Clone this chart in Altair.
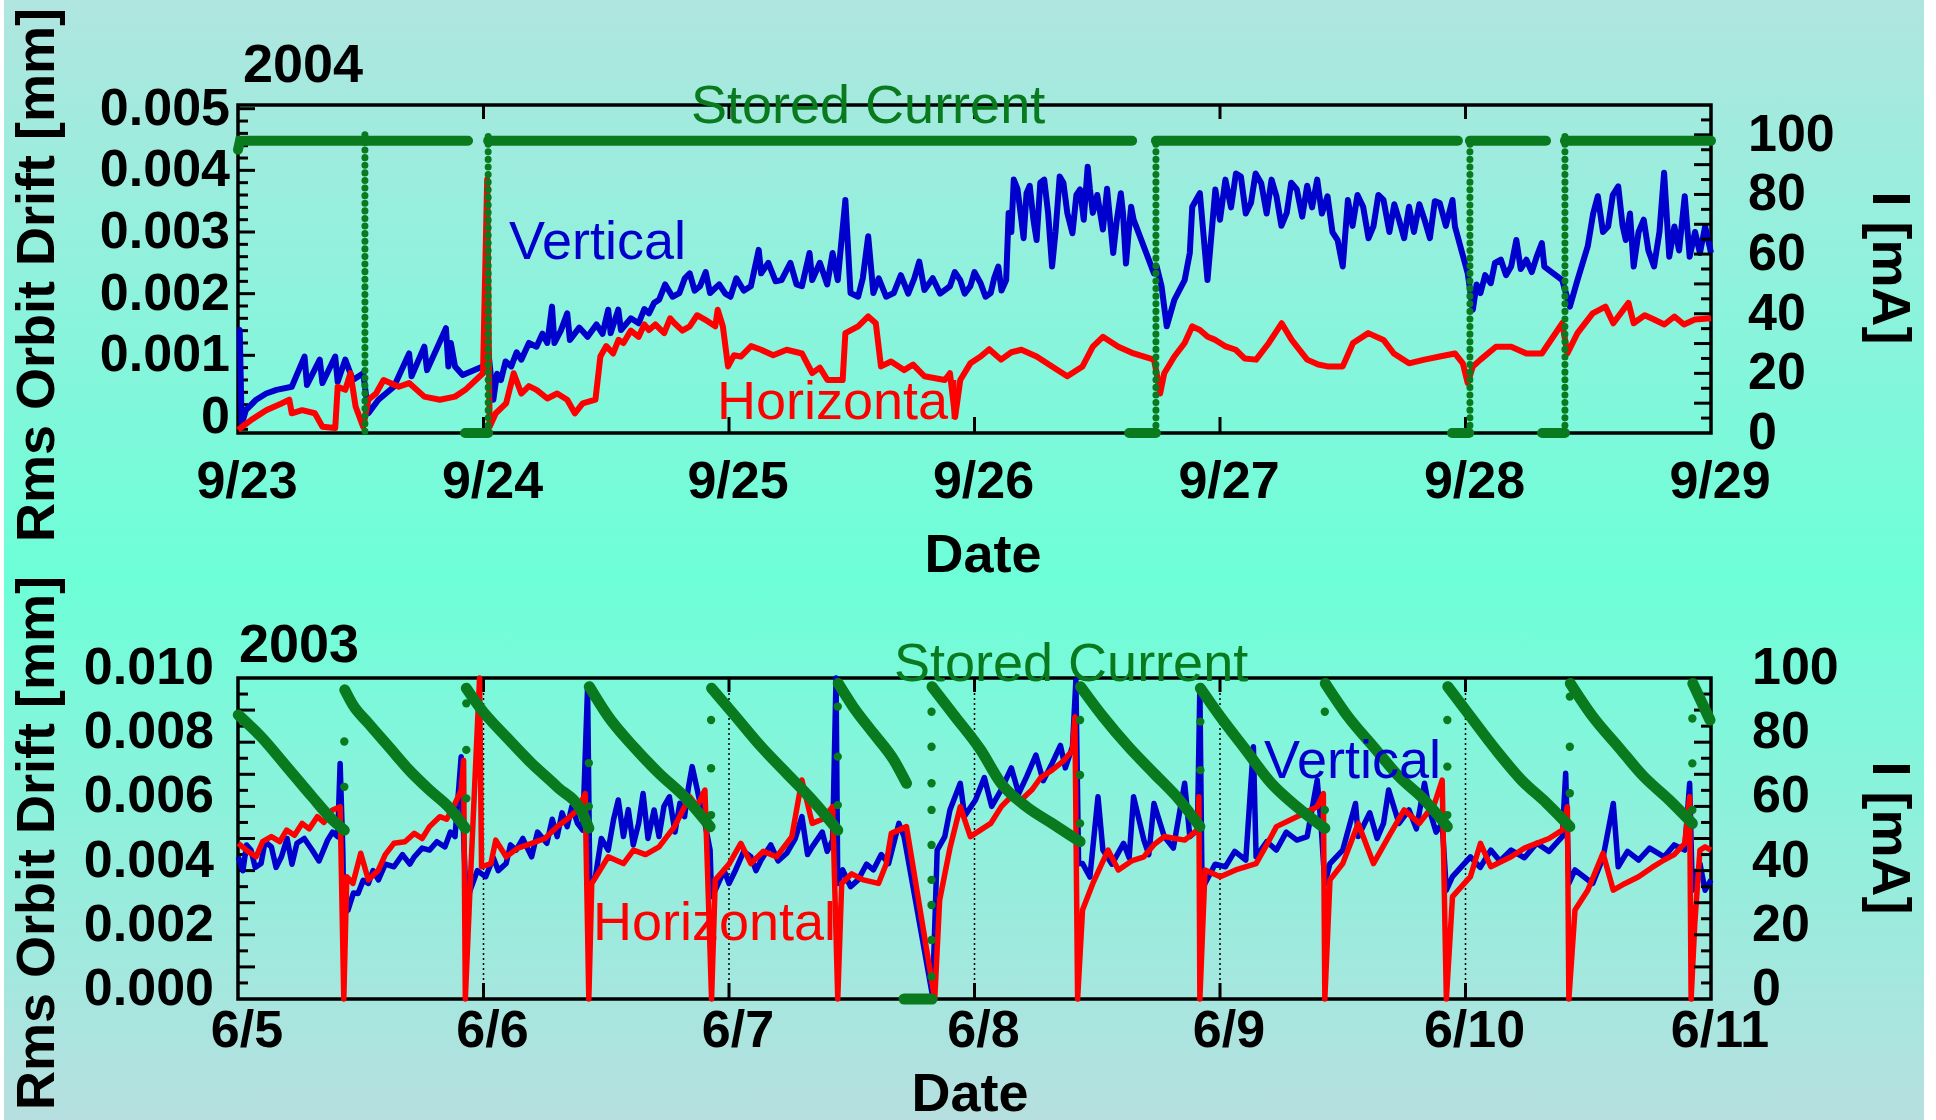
import altair as alt
import pandas as pd

FONT = "Liberation Sans"
BLUE = "#0000cd"
RED = "#ff0000"
GREEN = "#0a7a1e"
BG_TOP = "#b0e5e0"
BG_MID = "#6cffd8"
BG_BOT = "#b7dfe0"

W = 1473
H_TOP = 328
H_BOT = 321
GAP = 245

# ---------------- axis values / labels ----------------
day_ticks = [0, 1, 2, 3, 4, 5, 6]
inner_days = [1, 2, 3, 4, 5]
dates_2004 = ["9/23", "9/24", "9/25", "9/26", "9/27", "9/28", "9/29"]
dates_2003 = ["6/5", "6/6", "6/7", "6/8", "6/9", "6/10", "6/11"]

top_left_values = [0, 0.001, 0.002, 0.003, 0.004, 0.005]
top_left_labels = ["0", "0.001", "0.002", "0.003", "0.004", "0.005"]
top_left_minor = [-0.0002, 0.0002, 0.0004, 0.0006, 0.0008, 0.0012, 0.0014, 0.0016, 0.0018,
                  0.0022, 0.0024, 0.0026, 0.0028, 0.0032, 0.0034, 0.0036, 0.0038,
                  0.0042, 0.0044, 0.0046, 0.0048]
top_right_values = [0, 20, 40, 60, 80, 100]
top_right_labels = ["0", "20", "40", "60", "80", "100"]
top_right_major = [10, 20, 30, 40, 50, 60, 70, 80, 90, 100]
top_right_minor = [5, 15, 25, 35, 45, 55, 65, 75, 85, 95, 105]

bot_left_values = [0, 0.002, 0.004, 0.006, 0.008, 0.010]
bot_left_labels = ["0.000", "0.002", "0.004", "0.006", "0.008", "0.010"]
bot_left_major = [0.001, 0.002, 0.003, 0.004, 0.005, 0.006, 0.007, 0.008, 0.009]
bot_left_minor = [0.0005, 0.0015, 0.0025, 0.0035, 0.0045, 0.0055, 0.0065, 0.0075, 0.0085, 0.0095]
bot_right_values = [0, 20, 40, 60, 80, 100]
bot_right_labels = ["0", "20", "40", "60", "80", "100"]
bot_right_major = [10, 20, 30, 40, 50, 60, 70, 80, 90]
bot_right_minor = [5, 15, 25, 35, 45, 55, 65, 75, 85, 95]

# ---------------- 2004 series (day offset from 9/23, value) ----------------
top_vertical = [
    (0.000, 0.00140), (0.007, 0.00141), (0.015, -0.00012), (0.032, 0.00011), (0.074, 0.00028),
    (0.115, 0.00038), (0.157, 0.00044), (0.219, 0.00049), (0.271, 0.00098), (0.281, 0.00052),
    (0.333, 0.00093), (0.344, 0.00055), (0.396, 0.00098), (0.406, 0.00057), (0.437, 0.00093),
    (0.468, 0.00060), (0.510, 0.00071), (0.531, 0.00006), (0.572, 0.00028), (0.635, 0.00049),
    (0.697, 0.00103), (0.707, 0.00066), (0.759, 0.00114), (0.770, 0.00076), (0.847, 0.00144),
    (0.857, 0.00082), (0.867, 0.00120), (0.884, 0.00082), (0.915, 0.00068), (1.009, 0.00084),
    (1.019, 0.00109), (1.040, 0.00028), (1.055, 0.00070), (1.071, 0.00060), (1.090, 0.00090),
    (1.113, 0.00082), (1.135, 0.00105), (1.154, 0.00093), (1.185, 0.00120), (1.216, 0.00114),
    (1.240, 0.00135), (1.260, 0.00120), (1.279, 0.00179), (1.289, 0.00120), (1.315, 0.00140),
    (1.341, 0.00168), (1.352, 0.00125), (1.390, 0.00145), (1.424, 0.00130), (1.460, 0.00150),
    (1.485, 0.00135), (1.508, 0.00174), (1.518, 0.00136), (1.549, 0.00174), (1.560, 0.00141),
    (1.600, 0.00160), (1.632, 0.00152), (1.655, 0.00175), (1.674, 0.00168), (1.695, 0.00185),
    (1.715, 0.00190), (1.740, 0.00215), (1.770, 0.00195), (1.798, 0.00201), (1.820, 0.00225),
    (1.840, 0.00233), (1.860, 0.00205), (1.882, 0.00212), (1.905, 0.00235), (1.923, 0.00201),
    (1.960, 0.00215), (1.985, 0.00200), (2.006, 0.00195), (2.030, 0.00225), (2.060, 0.00205),
    (2.089, 0.00212), (2.121, 0.00271), (2.131, 0.00233), (2.160, 0.00250), (2.190, 0.00220),
    (2.214, 0.00222), (2.250, 0.00250), (2.275, 0.00215), (2.297, 0.00212), (2.328, 0.00266),
    (2.339, 0.00222), (2.370, 0.00250), (2.400, 0.00215), (2.422, 0.00266), (2.443, 0.00222),
    (2.474, 0.00352), (2.495, 0.00201), (2.526, 0.00195), (2.545, 0.00225), (2.567, 0.00293),
    (2.588, 0.00201), (2.610, 0.00225), (2.640, 0.00195), (2.671, 0.00201), (2.700, 0.00230),
    (2.730, 0.00200), (2.755, 0.00225), (2.775, 0.00252), (2.796, 0.00206), (2.830, 0.00225),
    (2.860, 0.00200), (2.900, 0.00212), (2.920, 0.00235), (2.942, 0.00222), (2.960, 0.00200),
    (2.983, 0.00212), (3.000, 0.00235), (3.025, 0.00217), (3.045, 0.00195), (3.066, 0.00201),
    (3.080, 0.00225), (3.097, 0.00244), (3.110, 0.00205), (3.129, 0.00222), (3.139, 0.00331),
    (3.150, 0.00300), (3.160, 0.00385), (3.175, 0.00370), (3.191, 0.00320), (3.200, 0.00290),
    (3.212, 0.00363), (3.225, 0.00375), (3.240, 0.00320), (3.253, 0.00287), (3.268, 0.00380),
    (3.284, 0.00385), (3.300, 0.00330), (3.316, 0.00244), (3.330, 0.00300), (3.347, 0.00390),
    (3.362, 0.00380), (3.378, 0.00331), (3.399, 0.00298), (3.415, 0.00360), (3.430, 0.00369),
    (3.445, 0.00320), (3.461, 0.00406), (3.470, 0.00370), (3.482, 0.00331), (3.500, 0.00360),
    (3.523, 0.00304), (3.540, 0.00370), (3.565, 0.00266), (3.580, 0.00320), (3.596, 0.00363),
    (3.605, 0.00330), (3.617, 0.00249), (3.628, 0.00300), (3.638, 0.00341), (3.648, 0.00320),
    (3.731, 0.00233), (3.742, 0.00244), (3.762, 0.00212), (3.783, 0.00147), (3.814, 0.00190),
    (3.856, 0.00222), (3.877, 0.00266), (3.887, 0.00341), (3.918, 0.00363), (3.949, 0.00222),
    (3.981, 0.00369), (4.000, 0.00320), (4.022, 0.00385), (4.045, 0.00340), (4.065, 0.00395),
    (4.085, 0.00390), (4.105, 0.00330), (4.126, 0.00347), (4.145, 0.00395), (4.168, 0.00379),
    (4.190, 0.00330), (4.210, 0.00385), (4.230, 0.00358), (4.250, 0.00310), (4.272, 0.00331),
    (4.290, 0.00380), (4.313, 0.00369), (4.335, 0.00325), (4.355, 0.00375), (4.375, 0.00340),
    (4.396, 0.00385), (4.415, 0.00330), (4.438, 0.00358), (4.458, 0.00300), (4.479, 0.00287),
    (4.500, 0.00244), (4.521, 0.00352), (4.540, 0.00310), (4.560, 0.00360), (4.583, 0.00341),
    (4.605, 0.00290), (4.625, 0.00309), (4.645, 0.00360), (4.666, 0.00352), (4.690, 0.00300),
    (4.710, 0.00345), (4.729, 0.00320), (4.750, 0.00290), (4.770, 0.00341), (4.790, 0.00300),
    (4.812, 0.00345), (4.833, 0.00320), (4.855, 0.00290), (4.875, 0.00350), (4.895, 0.00347),
    (4.920, 0.00310), (4.947, 0.00352), (4.957, 0.00309), (5.009, 0.00233), (5.030, 0.00174),
    (5.045, 0.00215), (5.061, 0.00201), (5.080, 0.00230), (5.103, 0.00217), (5.120, 0.00250),
    (5.144, 0.00255), (5.165, 0.00230), (5.186, 0.00244), (5.207, 0.00287), (5.225, 0.00240),
    (5.248, 0.00255), (5.270, 0.00235), (5.290, 0.00260), (5.311, 0.00282), (5.321, 0.00244),
    (5.394, 0.00222), (5.425, 0.00179), (5.456, 0.00222), (5.498, 0.00277), (5.520, 0.00330),
    (5.539, 0.00358), (5.560, 0.00300), (5.581, 0.00309), (5.600, 0.00360), (5.622, 0.00374),
    (5.640, 0.00310), (5.653, 0.00287), (5.670, 0.00330), (5.685, 0.00244), (5.705, 0.00300),
    (5.726, 0.00320), (5.745, 0.00270), (5.768, 0.00244), (5.790, 0.00300), (5.809, 0.00396),
    (5.830, 0.00260), (5.851, 0.00309), (5.870, 0.00270), (5.893, 0.00358), (5.913, 0.00260),
    (5.935, 0.00300), (5.955, 0.00266), (5.976, 0.00309), (6.000, 0.00266),
]

top_horizontal = [
    (0.000, -0.00021), (0.053, -0.00005), (0.115, 0.00011), (0.177, 0.00022), (0.209, 0.00028),
    (0.219, 0.00006), (0.261, 0.00011), (0.313, 0.00006), (0.344, -0.00016), (0.396, -0.00018),
    (0.406, 0.00049), (0.437, 0.00044), (0.458, 0.00071), (0.479, 0.00017), (0.510, -0.00016),
    (0.531, 0.00028), (0.562, 0.00038), (0.593, 0.00060), (0.655, 0.00049), (0.697, 0.00055),
    (0.759, 0.00033), (0.822, 0.00028), (0.884, 0.00033), (0.926, 0.00044), (0.998, 0.00071),
    (1.015, 0.00385), (1.025, -0.00016), (1.050, 0.00006), (1.092, 0.00022), (1.123, 0.00071),
    (1.154, 0.00038), (1.185, 0.00050), (1.216, 0.00044), (1.260, 0.00030), (1.300, 0.00038),
    (1.341, 0.00028), (1.372, 0.00006), (1.404, 0.00022), (1.456, 0.00028), (1.476, 0.00098),
    (1.500, 0.00115), (1.528, 0.00103), (1.550, 0.00125), (1.570, 0.00120), (1.600, 0.00140),
    (1.632, 0.00130), (1.655, 0.00150), (1.674, 0.00141), (1.700, 0.00150), (1.736, 0.00136),
    (1.760, 0.00160), (1.778, 0.00152), (1.810, 0.00140), (1.840, 0.00147), (1.870, 0.00165),
    (1.902, 0.00158), (1.944, 0.00147), (1.954, 0.00174), (1.975, 0.00147), (1.996, 0.00082),
    (2.020, 0.00100), (2.048, 0.00098), (2.090, 0.00115), (2.131, 0.00109), (2.180, 0.00100),
    (2.235, 0.00109), (2.297, 0.00103), (2.339, 0.00071), (2.370, 0.00080), (2.401, 0.00060),
    (2.463, 0.00060), (2.474, 0.00136), (2.526, 0.00147), (2.567, 0.00163), (2.598, 0.00152),
    (2.619, 0.00082), (2.660, 0.00090), (2.713, 0.00076), (2.750, 0.00085), (2.796, 0.00066),
    (2.879, 0.00060), (2.900, 0.00071), (2.921, 0.00000), (2.942, 0.00060), (2.983, 0.00087),
    (3.025, 0.00098), (3.060, 0.00110), (3.108, 0.00093), (3.150, 0.00105), (3.191, 0.00109),
    (3.253, 0.00098), (3.316, 0.00082), (3.378, 0.00066), (3.440, 0.00082), (3.482, 0.00114),
    (3.523, 0.00130), (3.586, 0.00114), (3.648, 0.00103), (3.731, 0.00093), (3.742, 0.00071),
    (3.756, 0.00038), (3.773, 0.00071), (3.814, 0.00098), (3.856, 0.00120), (3.887, 0.00147),
    (3.918, 0.00141), (3.950, 0.00130), (3.981, 0.00125), (4.020, 0.00115), (4.064, 0.00109),
    (4.100, 0.00095), (4.147, 0.00093), (4.199, 0.00120), (4.251, 0.00152), (4.292, 0.00125),
    (4.355, 0.00093), (4.400, 0.00085), (4.438, 0.00082), (4.500, 0.00082), (4.542, 0.00120),
    (4.604, 0.00136), (4.666, 0.00125), (4.708, 0.00103), (4.770, 0.00087), (4.833, 0.00093),
    (4.895, 0.00098), (4.957, 0.00103), (4.989, 0.00087), (5.009, 0.00055), (5.030, 0.00082),
    (5.061, 0.00093), (5.124, 0.00114), (5.186, 0.00114), (5.248, 0.00103), (5.311, 0.00103),
    (5.394, 0.00152), (5.415, 0.00103), (5.456, 0.00136), (5.518, 0.00168), (5.570, 0.00179),
    (5.602, 0.00152), (5.664, 0.00185), (5.685, 0.00152), (5.730, 0.00165), (5.768, 0.00158),
    (5.810, 0.00150), (5.851, 0.00163), (5.890, 0.00150), (5.934, 0.00158), (6.000, 0.00160),
]

# stored current 2004: plateaus / zero periods, and injection ramps (mA)
top_current_levels = [
    [(0.000, 95), (0.008, 98), (0.937, 98)],
    [(0.925, 0), (1.019, 0)],
    [(1.019, 98), (3.642, 98)],
    [(3.630, 0), (3.739, 0)],
    [(3.739, 98), (4.969, 98)],
    [(4.945, 0), (5.015, 0)],
    [(5.018, 98), (5.328, 98)],
    [(5.312, 0), (5.405, 0)],
    [(5.405, 98), (6.000, 98)],
]
top_current_ramps = [
    [(0.517, 100), (0.517, 0)],
    [(1.019, 0), (1.019, 100)],
    [(3.739, 0), (3.739, 98)],
    [(5.018, 0), (5.018, 98)],
    [(5.405, 0), (5.405, 101)],
]

# ---------------- 2003 series (day offset from 6/5, value) ----------------
bot_vertical = [
    (0.001, 0.00443), (0.020, 0.00400), (0.035, 0.00480), (0.053, 0.00464), (0.070, 0.00410),
    (0.094, 0.00422), (0.110, 0.00490), (0.136, 0.00474), (0.155, 0.00410), (0.177, 0.00443),
    (0.200, 0.00500), (0.220, 0.00420), (0.240, 0.00485), (0.270, 0.00500), (0.302, 0.00464),
    (0.330, 0.00430), (0.365, 0.00495), (0.385, 0.00520), (0.406, 0.00506), (0.416, 0.00734),
    (0.427, 0.00464), (0.431, 0.00267),
    (0.448, 0.00277), (0.470, 0.00330), (0.489, 0.00329), (0.510, 0.00370), (0.531, 0.00360),
    (0.550, 0.00400), (0.572, 0.00371), (0.600, 0.00420), (0.635, 0.00412), (0.670, 0.00450),
    (0.700, 0.00420), (0.718, 0.00443), (0.750, 0.00470), (0.780, 0.00464), (0.810, 0.00490),
    (0.843, 0.00474), (0.865, 0.00520), (0.884, 0.00506), (0.909, 0.00755), (0.921, 0.00464),
    (0.930, 0.00300),
    (0.946, 0.00339), (0.975, 0.00400), (1.009, 0.00381), (1.040, 0.00440), (1.060, 0.00400),
    (1.092, 0.00422), (1.110, 0.00480), (1.133, 0.00464), (1.160, 0.00500), (1.196, 0.00443),
    (1.220, 0.00520), (1.258, 0.00485), (1.280, 0.00560), (1.300, 0.00506), (1.320, 0.00580),
    (1.341, 0.00537), (1.360, 0.00600), (1.383, 0.00547), (1.404, 0.00526), (1.424, 0.00973),
    (1.433, 0.00360),
    (1.456, 0.00381), (1.480, 0.00500), (1.508, 0.00464), (1.530, 0.00560), (1.549, 0.00620),
    (1.570, 0.00506), (1.590, 0.00590), (1.610, 0.00480), (1.632, 0.00547), (1.650, 0.00640),
    (1.670, 0.00500), (1.695, 0.00589), (1.715, 0.00506), (1.735, 0.00600), (1.757, 0.00630),
    (1.780, 0.00520), (1.800, 0.00610), (1.819, 0.00568), (1.835, 0.00660), (1.850, 0.00724),
    (1.871, 0.00651), (1.890, 0.00580), (1.902, 0.00547), (1.923, 0.00464), (1.929, 0.00319),
    (1.944, 0.00339), (1.980, 0.00400), (2.000, 0.00360), (2.027, 0.00402), (2.060, 0.00460),
    (2.089, 0.00443), (2.110, 0.00400), (2.131, 0.00433), (2.170, 0.00480), (2.200, 0.00430),
    (2.235, 0.00454), (2.270, 0.00500), (2.297, 0.00568), (2.320, 0.00450), (2.339, 0.00474),
    (2.380, 0.00520), (2.400, 0.00460), (2.422, 0.00495), (2.436, 0.01000), (2.443, 0.00360),
    (2.463, 0.00402), (2.495, 0.00350), (2.526, 0.00371), (2.560, 0.00420), (2.588, 0.00402),
    (2.620, 0.00450), (2.650, 0.00422), (2.692, 0.00547), (2.713, 0.00506), (2.829, 0.00010),
    (2.848, 0.00464), (2.879, 0.00506), (2.900, 0.00589), (2.942, 0.00672), (2.960, 0.00570),
    (3.004, 0.00620), (3.040, 0.00690), (3.070, 0.00600), (3.108, 0.00651), (3.150, 0.00720),
    (3.180, 0.00640), (3.212, 0.00692), (3.250, 0.00760), (3.280, 0.00680), (3.316, 0.00734),
    (3.350, 0.00790), (3.370, 0.00720), (3.399, 0.00786), (3.413, 0.00993), (3.424, 0.00422),
    (3.440, 0.00422), (3.470, 0.00380), (3.503, 0.00630), (3.523, 0.00464), (3.560, 0.00420),
    (3.607, 0.00485), (3.630, 0.00440), (3.648, 0.00630), (3.690, 0.00495), (3.710, 0.00450),
    (3.731, 0.00609), (3.773, 0.00506), (3.810, 0.00470), (3.856, 0.00672), (3.877, 0.00506),
    (3.908, 0.00526), (3.918, 0.00973), (3.927, 0.00339),
    (3.939, 0.00360), (3.980, 0.00420), (4.022, 0.00412), (4.060, 0.00460), (4.105, 0.00433),
    (4.136, 0.00786), (4.147, 0.00443), (4.190, 0.00490), (4.230, 0.00464), (4.270, 0.00520),
    (4.313, 0.00495), (4.355, 0.00506), (4.396, 0.00682), (4.413, 0.00526), (4.427, 0.00360),
    (4.448, 0.00422), (4.500, 0.00464), (4.552, 0.00609), (4.563, 0.00506), (4.610, 0.00580),
    (4.640, 0.00500), (4.666, 0.00547), (4.687, 0.00651), (4.729, 0.00547), (4.770, 0.00589),
    (4.800, 0.00530), (4.833, 0.00672), (4.853, 0.00589), (4.880, 0.00520), (4.905, 0.00547),
    (4.922, 0.00339),
    (4.947, 0.00381), (5.020, 0.00443), (5.060, 0.00410), (5.103, 0.00464), (5.140, 0.00430),
    (5.186, 0.00464), (5.240, 0.00440), (5.290, 0.00485), (5.340, 0.00460), (5.394, 0.00506),
    (5.408, 0.00703), (5.421, 0.00360),
    (5.446, 0.00402), (5.518, 0.00360), (5.560, 0.00440), (5.602, 0.00609), (5.622, 0.00412),
    (5.660, 0.00460), (5.705, 0.00433), (5.750, 0.00470), (5.809, 0.00443), (5.850, 0.00480),
    (5.893, 0.00464), (5.913, 0.00672), (5.924, 0.00339),
    (5.955, 0.00422), (5.976, 0.00339), (6.000, 0.00371),
]

bot_horizontal = [
    (0.001, 0.00485), (0.040, 0.00460), (0.074, 0.00443), (0.100, 0.00490), (0.136, 0.00506),
    (0.170, 0.00490), (0.198, 0.00526), (0.230, 0.00510), (0.261, 0.00547), (0.290, 0.00530),
    (0.323, 0.00568), (0.350, 0.00550), (0.385, 0.00589), (0.416, 0.00599), (0.431, 0.0),
    (0.443, 0.00381), (0.468, 0.00360), (0.500, 0.00454), (0.531, 0.00371), (0.572, 0.00402),
    (0.600, 0.00450), (0.635, 0.00485), (0.680, 0.00490), (0.718, 0.00516), (0.750, 0.00500),
    (0.780, 0.00537), (0.822, 0.00568), (0.850, 0.00560), (0.884, 0.00609), (0.909, 0.00651),
    (0.919, 0.00744), (0.926, 0.0),
    (0.946, 0.00360), (0.984, 0.01000), (0.992, 0.00412),
    (1.030, 0.00422), (1.050, 0.00495), (1.092, 0.00443), (1.140, 0.00470), (1.196, 0.00485),
    (1.250, 0.00500), (1.300, 0.00537), (1.340, 0.00560), (1.383, 0.00589), (1.414, 0.00640),
    (1.429, 0.0),
    (1.441, 0.00360), (1.508, 0.00443), (1.570, 0.00422), (1.611, 0.00464), (1.660, 0.00450),
    (1.715, 0.00474), (1.778, 0.00537), (1.840, 0.00630), (1.870, 0.00600), (1.902, 0.00651),
    (1.929, 0.0),
    (1.944, 0.00371), (2.000, 0.00420), (2.048, 0.00485), (2.089, 0.00422), (2.140, 0.00460),
    (2.193, 0.00443), (2.256, 0.00506), (2.297, 0.00682), (2.339, 0.00547), (2.380, 0.00560),
    (2.422, 0.00599), (2.443, 0.0),
    (2.459, 0.00360), (2.500, 0.00390), (2.547, 0.00371), (2.609, 0.00360), (2.640, 0.00420),
    (2.661, 0.00516), (2.723, 0.00537), (2.838, 0.0),
    (2.858, 0.00308), (2.900, 0.00470), (2.942, 0.00599), (2.983, 0.00506), (3.066, 0.00547),
    (3.110, 0.00600), (3.149, 0.00630), (3.190, 0.00620), (3.233, 0.00651), (3.270, 0.00690),
    (3.316, 0.00713), (3.360, 0.00740), (3.399, 0.00775), (3.409, 0.00879), (3.420, 0.0),
    (3.440, 0.00277), (3.482, 0.00360), (3.544, 0.00464), (3.586, 0.00402), (3.640, 0.00430),
    (3.690, 0.00443), (3.730, 0.00480), (3.773, 0.00506), (3.856, 0.00495), (3.908, 0.00526),
    (3.914, 0.00630), (3.918, 0.0),
    (3.939, 0.00402), (4.001, 0.00381), (4.064, 0.00402), (4.147, 0.00422), (4.190, 0.00480),
    (4.230, 0.00537), (4.313, 0.00568), (4.396, 0.00599), (4.421, 0.00640), (4.427, 0.0),
    (4.448, 0.00371), (4.500, 0.00422), (4.563, 0.00547), (4.625, 0.00422), (4.687, 0.00506),
    (4.750, 0.00589), (4.812, 0.00547), (4.874, 0.00609), (4.905, 0.00682), (4.922, 0.0),
    (4.947, 0.00319), (5.020, 0.00381), (5.061, 0.00485), (5.103, 0.00412), (5.186, 0.00443),
    (5.240, 0.00470), (5.290, 0.00485), (5.340, 0.00500), (5.394, 0.00526), (5.415, 0.00599),
    (5.421, 0.0),
    (5.446, 0.00277), (5.498, 0.00339), (5.560, 0.00454), (5.602, 0.00339), (5.650, 0.00360),
    (5.705, 0.00381), (5.760, 0.00410), (5.809, 0.00433), (5.850, 0.00450), (5.893, 0.00485),
    (5.913, 0.00630), (5.919, 0.0),
    (5.934, 0.00236), (5.955, 0.00464), (5.976, 0.00474), (6.000, 0.00464),
]

# stored current 2003: decay curves between fills (mA)
bot_current_decays = [
    [(0.001, 88.5), (0.094, 81.7), (0.198, 72.4), (0.302, 63.0), (0.385, 55.8), (0.433, 52.6)],
    [(0.435, 96.3), (0.468, 91.6), (0.531, 85.9), (0.614, 78.6), (0.697, 71.3), (0.780, 65.1), (0.863, 59.4), (0.926, 53.2)],
    [(0.930, 96.8), (0.988, 90.5), (1.092, 81.7), (1.196, 73.4), (1.300, 66.1), (1.404, 57.8), (1.429, 53.2)],
    [(1.431, 97.3), (1.508, 88.0), (1.611, 78.6), (1.715, 70.3), (1.819, 63.0), (1.923, 53.7)],
    [(1.929, 96.8), (2.027, 88.0), (2.131, 78.6), (2.235, 70.3), (2.339, 62.0), (2.443, 52.6)],
    [(2.445, 98.3), (2.505, 91.1), (2.588, 82.8), (2.671, 74.5), (2.723, 67.2)],
    [(2.713, 0.0), (2.827, 0.0)],
    [(2.827, 97.3), (2.921, 88.0), (3.025, 77.6), (3.108, 67.2), (3.212, 59.9), (3.316, 54.7), (3.430, 49.0)],
    [(3.432, 97.3), (3.523, 88.0), (3.627, 78.6), (3.731, 70.3), (3.835, 62.0), (3.918, 53.7)],
    [(3.920, 96.8), (4.001, 88.0), (4.105, 77.6), (4.209, 67.2), (4.313, 59.9), (4.427, 53.2)],
    [(4.429, 98.3), (4.521, 88.0), (4.625, 78.6), (4.729, 69.3), (4.833, 62.0), (4.926, 53.7)],
    [(4.928, 97.3), (5.020, 88.0), (5.124, 77.6), (5.228, 68.2), (5.331, 61.0), (5.425, 53.7)],
    [(5.427, 98.3), (5.518, 88.0), (5.622, 78.6), (5.726, 69.3), (5.830, 62.0), (5.924, 54.7)],
    [(5.926, 98.3), (5.996, 86.9)],
]
bot_current_fill_dots = [
    (0.433, 80.2), (0.433, 66.1),
    (0.930, 62.5), (0.930, 77.6), (0.930, 92.1),
    (1.429, 60.0), (1.429, 73.5),
    (1.927, 57.3), (1.927, 71.9), (1.927, 86.9),
    (2.443, 60.4), (2.443, 75.5), (2.443, 91.1),
    (2.825, 7.0), (2.825, 18.4), (2.825, 29.3), (2.825, 37.1), (2.825, 48.0),
    (2.825, 58.9), (2.825, 67.2), (2.825, 78.6), (2.825, 89.5),
    (3.430, 54.7), (3.430, 69.8), (3.430, 86.9),
    (3.920, 71.3), (3.920, 86.4),
    (4.427, 58.9), (4.427, 89.5),
    (4.926, 57.3), (4.926, 72.4), (4.926, 86.9),
    (5.425, 64.1), (5.425, 78.6), (5.425, 94.2),
    (5.924, 58.9), (5.924, 73.4), (5.924, 87.4),
]


# ---------------- helpers ----------------
def series_df(points):
    return pd.DataFrame({"d": [p[0] for p in points],
                         "v": [p[1] for p in points],
                         "i": list(range(len(points)))})


def segs_df(segments):
    rows, k = [], 0
    for s, seg in enumerate(segments):
        for d, v in seg:
            rows.append({"d": d, "v": v, "seg": s, "i": k})
            k += 1
    return pd.DataFrame(rows)


ONE = pd.DataFrame({"k": [0]})
X_SCALE = alt.Scale(domain=[0, 6], nice=False, zero=False)
XE = alt.X("d:Q", scale=X_SCALE, axis=None)


def gradient(c0, c1):
    return alt.LinearGradient(gradient="linear",
                              stops=[alt.GradientStop(color=c0, offset=0),
                                     alt.GradientStop(color=c1, offset=1)],
                              x1=0, x2=0, y1=0, y2=1)


def text(s, x, y, color, weight="normal", size=54, align="left", baseline="alphabetic", angle=0):
    return alt.Chart(ONE).mark_text(text=s, align=align, baseline=baseline, font=FONT,
                                    fontSize=size, fontWeight=weight, color=color,
                                    angle=angle).encode(x=alt.value(x), y=alt.value(y))


def panel(H, bg_y0, bg_y1, bg_c0, bg_c1,
          l_scale, l_vals, l_labels, l_pad, r_scale, r_vals, r_labels, r_pad, lab_dy,
          x_labels, x_pad, date_x, date_y, yt_y, rt_y,
          l_major, l_minor, r_major, r_minor, vert, horiz, green_layers, texts, grid, lw):
    bg = alt.Chart(ONE).mark_rect(fill=gradient(bg_c0, bg_c1)).encode(
        x=alt.value(-234), x2=alt.value(W + 213), y=alt.value(bg_y0), y2=alt.value(bg_y1))
    layers_left = [bg]
    days_df = pd.DataFrame({"d": inner_days})
    if grid:
        layers_left.append(alt.Chart(days_df).mark_rule(color="black", strokeWidth=1.5,
                                                         strokeDash=[2, 3]).encode(
            x=XE, y=alt.value(0), y2=alt.value(H)))
    frame = alt.Chart(ONE).mark_rect(filled=False, stroke="black", strokeWidth=3.5).encode(
        x=alt.value(0), x2=alt.value(W), y=alt.value(0), y2=alt.value(H))
    xt_b = alt.Chart(days_df).mark_rule(color="black", strokeWidth=3).encode(
        x=XE, y=alt.value(H), y2=alt.value(H - 16))
    xt_t = alt.Chart(days_df).mark_rule(color="black", strokeWidth=3).encode(
        x=XE, y=alt.value(0), y2=alt.value(14))
    ly = alt.Y("v:Q", scale=l_scale, axis=None)
    lmaj = alt.Chart(pd.DataFrame({"v": l_major})).mark_rule(color="black", strokeWidth=3).encode(
        y=ly, x=alt.value(0), x2=alt.value(17))
    lmin = alt.Chart(pd.DataFrame({"v": l_minor})).mark_rule(color="black", strokeWidth=3).encode(
        y=ly, x=alt.value(0), x2=alt.value(10))
    blue = alt.Chart(series_df(vert)).mark_line(color=BLUE, strokeWidth=lw, strokeJoin="round").encode(
        x=XE, y=ly, order="i:Q")
    red = alt.Chart(series_df(horiz)).mark_line(color=RED, strokeWidth=lw, strokeJoin="round").encode(
        x=XE, y=ly, order="i:Q")
    l_lab = alt.Chart(pd.DataFrame({"v": l_vals, "label": l_labels})).mark_text(
        align="right", baseline="middle", font=FONT, fontSize=52, fontWeight="bold",
        color="black", dy=lab_dy).encode(y=ly, x=alt.value(-l_pad), text="label:N")
    x_lab = alt.Chart(pd.DataFrame({"d": day_ticks, "label": x_labels})).mark_text(
        align="center", baseline="top", font=FONT, fontSize=52, fontWeight="bold",
        color="black", dx=9).encode(x=XE, y=alt.value(H + x_pad), text="label:N")
    layers_left += [frame, xt_b, xt_t, lmaj, lmin, blue, red, l_lab, x_lab,
                    text("Date", date_x, date_y, "black", "bold", 54, "center"),
                    text("Rms Orbit Drift [mm]", -200, yt_y, "black", "bold", 54, "center",
                         "middle", 270)]
    left = alt.layer(*layers_left)

    ry = alt.Y("v:Q", scale=r_scale, axis=None)
    rmaj = alt.Chart(pd.DataFrame({"v": r_major})).mark_rule(color="black", strokeWidth=3).encode(
        y=ry, x=alt.value(W - 17), x2=alt.value(W))
    rmin = alt.Chart(pd.DataFrame({"v": r_minor})).mark_rule(color="black", strokeWidth=3).encode(
        y=ry, x=alt.value(W - 10), x2=alt.value(W))
    r_lab = alt.Chart(pd.DataFrame({"v": r_vals, "label": r_labels})).mark_text(
        align="left", baseline="middle", font=FONT, fontSize=52, fontWeight="bold",
        color="black", dy=lab_dy).encode(y=ry, x=alt.value(W + r_pad), text="label:N")
    right = alt.layer(rmaj, rmin, *green_layers, r_lab,
                      text("I [mA]", W + 178, rt_y, "black", "bold", 54, "center", "middle", 90),
                      *texts)
    return alt.layer(left, right).resolve_scale(y="independent").properties(width=W, height=H)


# ---------------- top panel (2004) ----------------
tl_scale = alt.Scale(domain=[-0.00026, 0.00506], nice=False, zero=False)
tr_scale = alt.Scale(domain=[0, 110], nice=False, zero=False)
top_green = [
    alt.Chart(segs_df(top_current_levels)).mark_line(color=GREEN, strokeWidth=10, strokeCap="round").encode(
        x=XE, y=alt.Y("v:Q", scale=tr_scale, axis=None), detail="seg:N", order="i:Q"),
    alt.Chart(segs_df(top_current_ramps)).mark_line(color=GREEN, strokeWidth=7, strokeCap="round",
                                                    strokeDash=[0.1, 7.5]).encode(
        x=XE, y=alt.Y("v:Q", scale=tr_scale, axis=None), detail="seg:N", order="i:Q"),
]
top_texts = [
    text("2004", 5, -23, "black", "bold"),
    text("Stored Current", 453, 18, GREEN),
    text("Vertical", 271, 154, BLUE),
    text("Horizontal", 479, 314, RED),
]
top = panel(
    H_TOP, -105, 472, BG_TOP, BG_MID,
    tl_scale, top_left_values, top_left_labels, 8,
    tr_scale, top_right_values, top_right_labels, 37, 0,
    dates_2004, 24, 745, H_TOP + 139, 170, 163,
    top_left_values[1:], top_left_minor, top_right_major, top_right_minor,
    top_vertical, top_horizontal, top_green, top_texts, False, 6)

# ---------------- bottom panel (2003) ----------------
bl_scale = alt.Scale(domain=[0, 0.010], nice=False, zero=False)
br_scale = alt.Scale(domain=[0, 100], nice=False, zero=False)
bot_green = [
    alt.Chart(segs_df(bot_current_decays)).mark_line(color=GREEN, strokeWidth=11, strokeCap="round",
                                                     interpolate="monotone").encode(
        x=XE, y=alt.Y("v:Q", scale=br_scale, axis=None), detail="seg:N", order="i:Q"),
    alt.Chart(series_df(bot_current_fill_dots)).mark_circle(color=GREEN, size=70, opacity=1).encode(
        x=XE, y=alt.Y("v:Q", scale=br_scale, axis=None)),
]
bot_texts = [
    text("2003", 1, -16, "black", "bold"),
    text("Stored Current", 656, 3, GREEN),
    text("Vertical", 1026, 100, BLUE),
    text("Horizontal", 355, 262, RED),
]
bottom = panel(
    H_BOT, -101, 442, BG_MID, BG_BOT,
    bl_scale, bot_left_values, bot_left_labels, 24,
    br_scale, bot_right_values, bot_right_labels, 41, -10,
    dates_2003, 7, 732, H_BOT + 112, 165, 160,
    bot_left_major, bot_left_minor, bot_right_major, bot_right_minor,
    bot_vertical, bot_horizontal, bot_green, bot_texts, True, 5.5)

chart = alt.vconcat(top, bottom, spacing=GAP, bounds="flush").properties(
    padding={"left": 4, "top": 0, "right": 12, "bottom": 0},
    background="white",
).configure_view(strokeWidth=0)

chart.save("out.html", embed_options={"renderer": "svg", "actions": False})
